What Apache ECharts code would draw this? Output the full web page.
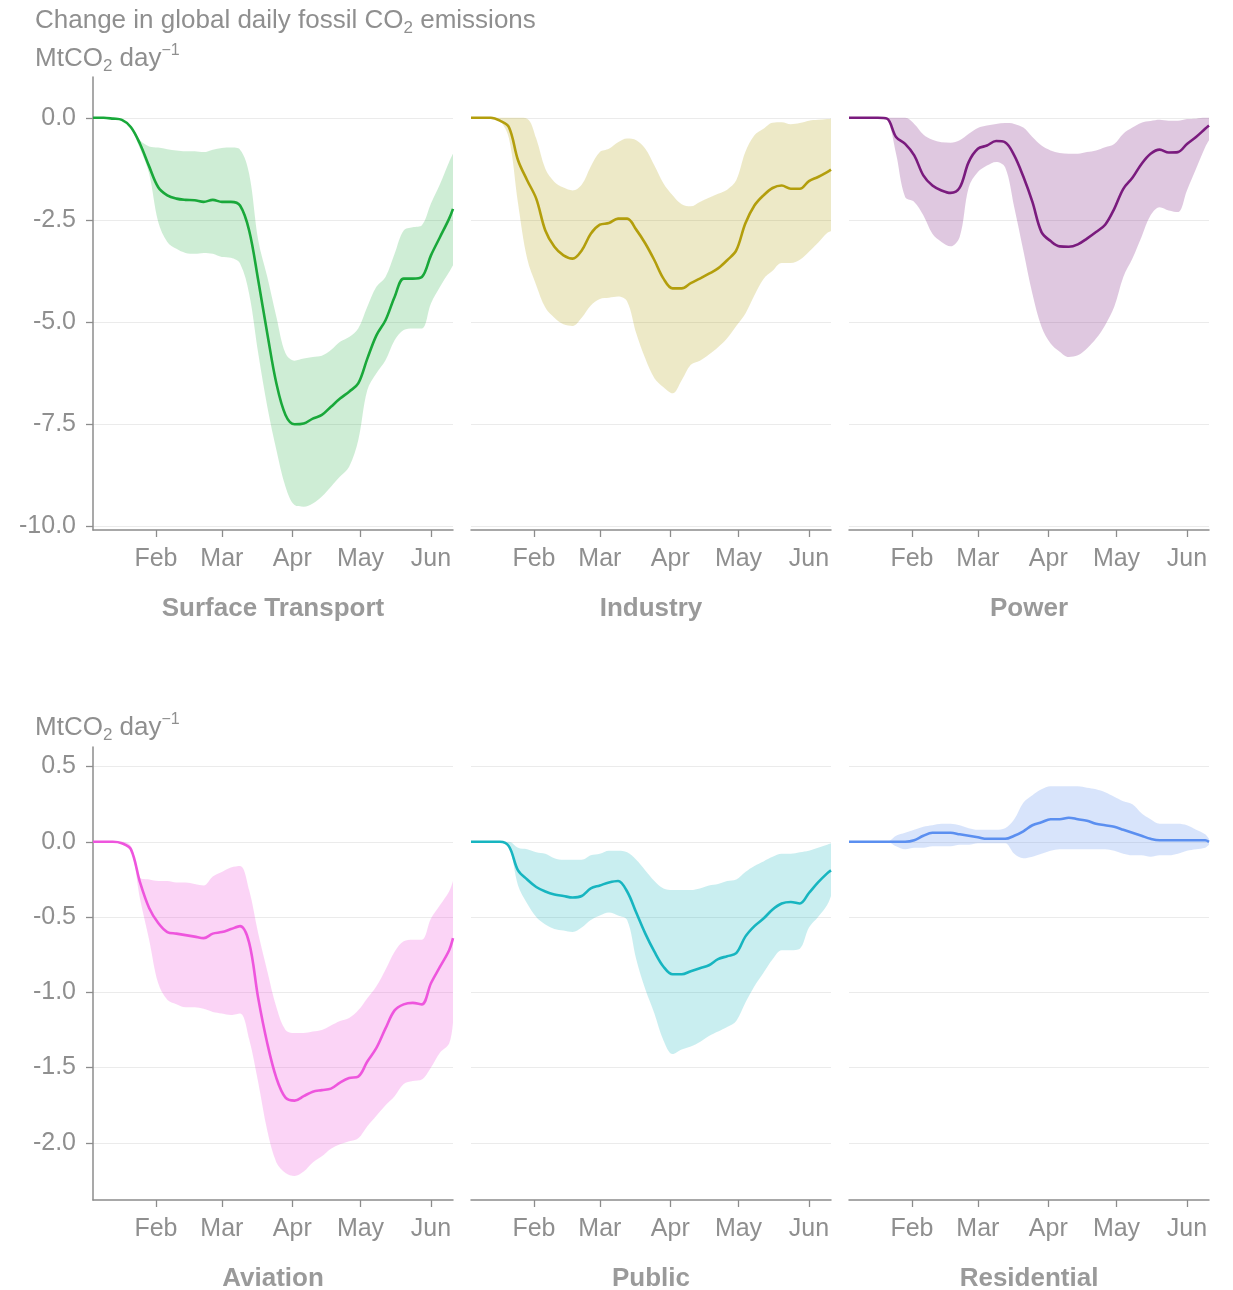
<!DOCTYPE html>
<html>
<head>
<meta charset="utf-8">
<script src="https://cdn.jsdelivr.net/npm/echarts@6/dist/echarts.min.js"></script>
<style>
  html, body { margin: 0; padding: 0; background: #ffffff; }
  #chart { width: 1233px; height: 1290px; }
</style>
</head>
<body>
<div id="chart"></div>
<script>
// Sample days, counted from 1 January 2020 (day 0)
const days = [3.3, 8, 12, 16, 20, 24, 28, 32, 36, 40, 44, 48, 52, 56, 60, 64, 68, 72, 76, 80,
  84, 88, 92, 96, 100, 104, 108, 112, 116, 120, 124, 128, 132, 136, 140, 144, 148, 152, 156, 160, 161.7];

// Month starts (day index from 1 January 2020) and their labels
const monthDays = [31, 60, 91, 121, 152];
const monthNames = ['Feb', 'Mar', 'Apr', 'May', 'Jun'];

// Y tick values for each row of panels
const topRowTicks = [-10, -7.5, -5, -2.5, 0];
const bottomRowTicks = [-2, -1.5, -1, -0.5, 0, 0.5];

// Change in daily emissions (MtCO2 per day): central estimate, upper and lower bound
const surfaceMean = [0, 0, -0.02, -0.05, -0.23, -0.64, -1.19, -1.70, -1.90, -1.98, -2.01, -2.02, -2.06, -2.01, -2.06, -2.06, -2.15, -2.76, -3.98, -5.29, -6.51, -7.28, -7.51, -7.49, -7.37, -7.28, -7.08, -6.88, -6.71, -6.51, -5.90, -5.33, -4.96, -4.39, -3.94, -3.94, -3.90, -3.37, -2.92, -2.47, -2.23];
const surfaceHigh = [0, 0, 0, -0.02, -0.20, -0.55, -0.70, -0.73, -0.77, -0.80, -0.82, -0.82, -0.84, -0.78, -0.74, -0.73, -0.78, -1.37, -3.00, -3.90, -4.88, -5.77, -5.95, -5.90, -5.86, -5.83, -5.69, -5.49, -5.37, -5.16, -4.63, -4.14, -3.90, -3.33, -2.76, -2.68, -2.63, -2.10, -1.62, -1.08, -0.88];
const surfaceLow = [0, 0, -0.02, -0.05, -0.27, -0.76, -1.37, -2.55, -3.04, -3.21, -3.31, -3.33, -3.31, -3.33, -3.41, -3.43, -3.57, -4.31, -5.77, -7.08, -8.14, -9.04, -9.49, -9.53, -9.45, -9.28, -9.04, -8.79, -8.55, -7.90, -6.67, -6.26, -5.94, -5.45, -5.20, -5.16, -5.16, -4.55, -4.14, -3.78, -3.61];

const industryMean = [0, 0, 0, -0.07, -0.23, -1.04, -1.53, -1.98, -2.76, -3.16, -3.37, -3.45, -3.25, -2.84, -2.62, -2.58, -2.47, -2.47, -2.74, -3.08, -3.49, -3.94, -4.18, -4.18, -4.05, -3.94, -3.82, -3.69, -3.49, -3.25, -2.59, -2.15, -1.90, -1.72, -1.66, -1.74, -1.74, -1.55, -1.45, -1.33, -1.27];
const industryHigh = [0, 0, 0, 0, 0, 0, -0.02, -0.51, -1.25, -1.57, -1.71, -1.78, -1.64, -1.19, -0.84, -0.76, -0.60, -0.51, -0.55, -0.76, -1.17, -1.61, -1.90, -2.12, -2.17, -2.06, -1.96, -1.86, -1.76, -1.53, -0.84, -0.43, -0.27, -0.12, -0.11, -0.16, -0.13, -0.07, -0.05, -0.03, -0.02];
const industryLow = [0, 0, 0, -0.07, -0.50, -2.10, -3.45, -4.10, -4.65, -4.90, -5.06, -5.10, -4.90, -4.60, -4.44, -4.41, -4.38, -4.50, -5.28, -5.90, -6.38, -6.60, -6.75, -6.43, -6.05, -5.95, -5.80, -5.62, -5.40, -5.10, -4.80, -4.35, -3.95, -3.75, -3.56, -3.56, -3.48, -3.28, -3.06, -2.82, -2.78];

const powerMean = [0, 0, 0, 0, -0.02, -0.47, -0.64, -0.92, -1.41, -1.66, -1.78, -1.84, -1.71, -1.08, -0.76, -0.68, -0.57, -0.60, -0.92, -1.44, -2.06, -2.80, -3.02, -3.15, -3.16, -3.10, -2.96, -2.80, -2.62, -2.23, -1.74, -1.47, -1.13, -0.88, -0.78, -0.85, -0.84, -0.64, -0.47, -0.27, -0.19];
const powerHigh = [0, 0, 0, 0, 0, 0, 0, -0.15, -0.41, -0.54, -0.60, -0.61, -0.55, -0.39, -0.25, -0.19, -0.15, -0.13, -0.15, -0.24, -0.47, -0.68, -0.80, -0.86, -0.88, -0.88, -0.84, -0.80, -0.72, -0.64, -0.39, -0.24, -0.12, -0.08, -0.05, -0.07, -0.07, -0.03, -0.02, 0, 0];
const powerLow = [0, 0, 0, 0, -0.05, -0.88, -1.94, -2.06, -2.39, -2.84, -3.04, -3.15, -2.92, -1.70, -1.33, -1.17, -1.08, -1.21, -2.19, -3.25, -4.31, -5.12, -5.53, -5.73, -5.86, -5.82, -5.65, -5.41, -5.08, -4.63, -3.90, -3.45, -2.92, -2.39, -2.19, -2.27, -2.31, -1.78, -1.25, -0.72, -0.55];

const aviationMean = [0, 0, 0, -0.01, -0.05, -0.27, -0.44, -0.54, -0.60, -0.61, -0.62, -0.63, -0.64, -0.61, -0.60, -0.58, -0.56, -0.67, -1.04, -1.34, -1.57, -1.70, -1.72, -1.69, -1.66, -1.65, -1.64, -1.60, -1.57, -1.56, -1.46, -1.37, -1.24, -1.12, -1.08, -1.07, -1.08, -0.94, -0.83, -0.72, -0.64];
const aviationHigh = [0, 0, 0, 0, -0.03, -0.24, -0.25, -0.26, -0.26, -0.27, -0.27, -0.28, -0.29, -0.23, -0.20, -0.17, -0.16, -0.32, -0.61, -0.86, -1.10, -1.25, -1.27, -1.27, -1.26, -1.25, -1.22, -1.19, -1.17, -1.12, -1.04, -0.96, -0.85, -0.73, -0.66, -0.65, -0.65, -0.51, -0.42, -0.33, -0.26];
const aviationLow = [0, 0, 0, -0.01, -0.05, -0.38, -0.65, -0.94, -1.05, -1.08, -1.10, -1.10, -1.11, -1.13, -1.14, -1.15, -1.14, -1.31, -1.60, -1.92, -2.13, -2.20, -2.22, -2.19, -2.13, -2.09, -2.04, -2.01, -1.99, -1.97, -1.89, -1.82, -1.75, -1.69, -1.61, -1.59, -1.58, -1.50, -1.40, -1.34, -1.20];

const publicMean = [0, 0, 0, 0, -0.03, -0.19, -0.25, -0.30, -0.33, -0.35, -0.36, -0.37, -0.36, -0.31, -0.29, -0.27, -0.26, -0.33, -0.47, -0.61, -0.73, -0.83, -0.88, -0.88, -0.86, -0.84, -0.82, -0.78, -0.76, -0.74, -0.63, -0.56, -0.51, -0.45, -0.41, -0.40, -0.41, -0.34, -0.27, -0.21, -0.19];
const publicHigh = [0, 0, 0, 0, 0, -0.04, -0.05, -0.07, -0.08, -0.11, -0.12, -0.12, -0.12, -0.09, -0.08, -0.06, -0.06, -0.07, -0.12, -0.19, -0.26, -0.31, -0.32, -0.32, -0.32, -0.31, -0.29, -0.28, -0.26, -0.25, -0.20, -0.16, -0.13, -0.10, -0.08, -0.08, -0.07, -0.06, -0.04, -0.02, -0.01];
const publicLow = [0, 0, 0, 0, -0.03, -0.29, -0.41, -0.50, -0.55, -0.58, -0.59, -0.60, -0.57, -0.52, -0.49, -0.47, -0.49, -0.52, -0.78, -0.98, -1.14, -1.32, -1.41, -1.38, -1.36, -1.33, -1.29, -1.26, -1.23, -1.19, -1.07, -0.96, -0.87, -0.78, -0.72, -0.72, -0.71, -0.57, -0.50, -0.42, -0.36];

const residentialMean = [0, 0, 0, 0, 0, 0, 0, 0.01, 0.04, 0.06, 0.06, 0.06, 0.05, 0.04, 0.03, 0.02, 0.02, 0.02, 0.04, 0.07, 0.11, 0.13, 0.15, 0.15, 0.16, 0.15, 0.14, 0.12, 0.11, 0.10, 0.08, 0.06, 0.04, 0.02, 0.01, 0.01, 0.01, 0.01, 0.01, 0.01, 0];
const residentialHigh = [0, 0, 0, 0, 0, 0.04, 0.06, 0.08, 0.10, 0.11, 0.12, 0.12, 0.11, 0.09, 0.08, 0.08, 0.08, 0.09, 0.15, 0.26, 0.31, 0.35, 0.37, 0.37, 0.37, 0.37, 0.36, 0.35, 0.33, 0.30, 0.27, 0.25, 0.19, 0.15, 0.12, 0.12, 0.12, 0.11, 0.08, 0.05, 0.02];
const residentialLow = [0, 0, 0, 0, 0, -0.03, -0.05, -0.04, -0.04, -0.03, -0.03, -0.03, -0.02, -0.02, -0.01, -0.01, -0.01, -0.01, -0.08, -0.11, -0.10, -0.08, -0.06, -0.05, -0.05, -0.05, -0.05, -0.05, -0.05, -0.06, -0.08, -0.09, -0.09, -0.10, -0.09, -0.09, -0.08, -0.06, -0.05, -0.04, -0.02];

const sectors = [
  { name: 'Surface Transport', mean: surfaceMean, high: surfaceHigh, low: surfaceLow, color: '#19a83a', band: 'rgba(25,168,58,0.21)' },
  { name: 'Industry', mean: industryMean, high: industryHigh, low: industryLow, color: '#b39e0c', band: 'rgba(179,158,12,0.23)' },
  { name: 'Power', mean: powerMean, high: powerHigh, low: powerLow, color: '#7a1b7e', band: 'rgba(122,27,126,0.24)' },
  { name: 'Aviation', mean: aviationMean, high: aviationHigh, low: aviationLow, color: '#ee55dd', band: 'rgba(238,85,221,0.25)' },
  { name: 'Public', mean: publicMean, high: publicHigh, low: publicLow, color: '#17b5c0', band: 'rgba(23,181,192,0.23)' },
  { name: 'Residential', mean: residentialMean, high: residentialHigh, low: residentialLow, color: '#5b8ff0', band: 'rgba(91,143,240,0.24)' }
];

// Panel geometry and styling
const FONT = '"Liberation Sans", Arial, Helvetica, sans-serif';
const TEXT_GREY = '#8f8f8f';
const AXIS_GREY = '#8c8c8c';
const GRID_GREY = '#ebebeb';
const colLeft = [93, 471, 849];
const rowTop = [77, 747];
const panelW = 360;
const panelH = 453;
const rows = [
  { min: -10.1, max: 1.0, ticks: topRowTicks },
  { min: -2.38, max: 0.63, ticks: bottomRowTicks }
];

const grids = [], xAxes = [], yAxes = [], series = [], graphics = [];

sectors.forEach((s, k) => {
  const r = Math.floor(k / 3), c = k % 3;
  const row = rows[r];
  grids.push({ left: colLeft[c], top: rowTop[r], width: panelW, height: panelH, containLabel: false });

  xAxes.push({
    gridIndex: k, type: 'value', min: days[0], max: days[days.length - 1],
    axisLine: { show: true, onZero: false, lineStyle: { color: AXIS_GREY, width: 1.5 } },
    axisTick: { show: true, length: 7, lineStyle: { color: AXIS_GREY, width: 1.3 }, customValues: monthDays },
    axisLabel: {
      show: true, customValues: monthDays, margin: 17, fontSize: 25, color: TEXT_GREY, fontFamily: FONT,
      formatter: v => monthNames[monthDays.indexOf(v)] || ''
    },
    splitLine: { show: false }
  });

  yAxes.push({
    gridIndex: k, type: 'value', min: row.min, max: row.max,
    axisLine: { show: c === 0, onZero: false, lineStyle: { color: AXIS_GREY, width: 1.5 } },
    axisTick: { show: c === 0, length: 7, lineStyle: { color: AXIS_GREY, width: 1.3 }, customValues: row.ticks },
    axisLabel: {
      show: c === 0, customValues: row.ticks, margin: 17, fontSize: 25, color: TEXT_GREY, fontFamily: FONT,
      formatter: v => v.toFixed(1)
    },
    splitLine: { show: true, lineStyle: { color: GRID_GREY, width: 1.2 } }
  });

  // Uncertainty band: lower bound, then the band width stacked on top of it.
  // Rows are [value, day] so that the value column is the one that gets stacked.
  const stackId = 'band' + k;
  series.push({
    type: 'line', xAxisIndex: k, yAxisIndex: k, stack: stackId, stackStrategy: 'all',
    data: days.map((d, i) => [s.low[i], d]),
    encode: { x: 1, y: 0 },
    showSymbol: false, symbol: 'none', smooth: 0.35, silent: true,
    lineStyle: { width: 0, opacity: 0 }
  });
  series.push({
    type: 'line', xAxisIndex: k, yAxisIndex: k, stack: stackId, stackStrategy: 'all',
    data: days.map((d, i) => [s.high[i] - s.low[i], d]),
    encode: { x: 1, y: 0 },
    showSymbol: false, symbol: 'none', smooth: 0.35, silent: true,
    lineStyle: { width: 0, opacity: 0 },
    areaStyle: { color: s.band, opacity: 1 }
  });
  // Central estimate
  series.push({
    name: s.name, type: 'line', xAxisIndex: k, yAxisIndex: k,
    data: days.map((d, i) => [d, s.mean[i]]),
    showSymbol: false, symbol: 'none', smooth: 0.35, z: 5,
    lineStyle: { color: s.color, width: 2.6 }
  });

  // Sector name under each panel
  graphics.push({
    type: 'text', x: colLeft[c] + panelW / 2, y: rowTop[r] + panelH + 79,
    style: {
      text: s.name, fill: '#9a9a9a', fontSize: 26, fontWeight: 'bold', fontFamily: FONT,
      textAlign: 'center', textVerticalAlign: 'middle'
    }
  });
});

const richStyles = {
  a: { fontSize: 26, lineHeight: 32, fill: TEXT_GREY, fontFamily: FONT },
  s: { fontSize: 17, lineHeight: 15, fill: TEXT_GREY, fontFamily: FONT, verticalAlign: 'bottom' },
  p: { fontSize: 16, lineHeight: 15, fill: TEXT_GREY, fontFamily: FONT, verticalAlign: 'top' }
};

graphics.push({
  type: 'text', left: 35, top: 8,
  style: { text: '{a|Change in global daily fossil CO}{s|2}{a| emissions}', fill: TEXT_GREY, rich: richStyles }
});
graphics.push({
  type: 'text', left: 35, top: 43,
  style: { text: '{a|MtCO}{s|2}{a| day}{p|\u22121}', fill: TEXT_GREY, rich: richStyles }
});
graphics.push({
  type: 'text', left: 35, top: 712,
  style: { text: '{a|MtCO}{s|2}{a| day}{p|\u22121}', fill: TEXT_GREY, rich: richStyles }
});

const chart = echarts.init(document.getElementById('chart'), null, { renderer: 'canvas' });
chart.setOption({
  backgroundColor: '#ffffff',
  animation: false,
  textStyle: { fontFamily: FONT },
  grid: grids,
  xAxis: xAxes,
  yAxis: yAxes,
  series: series,
  graphic: graphics
});
</script>
</body>
</html>
